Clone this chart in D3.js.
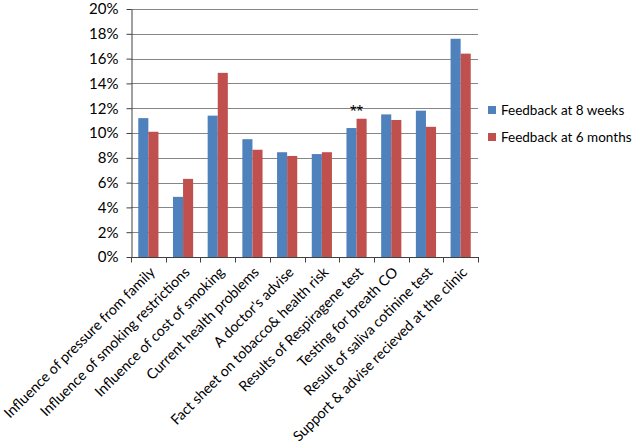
<!DOCTYPE html>
<html><head><meta charset="utf-8">
<script src="https://cdn.jsdelivr.net/npm/d3@7"></script>
<style>body{margin:0;background:#fff}svg{display:block}text{font-family:Lato,"Liberation Sans",sans-serif;fill:#000}</style>
</head><body><svg id="c" width="638" height="445"></svg>
<script>
const categories = ["Influence of pressure from family","Influence of smoking restrictions","Influence of cost of smoking","Current health problems","A doctor's advise","Fact sheet on tobacco& health risk","Results of Respiragene test","Testing for breath CO","Result of saliva cotinine test","Support & advise recieved at the clinic"];
const seriesNames = ["Feedback at 8 weeks","Feedback at 6 months"];
const week8 = [11.2, 4.85, 11.4, 9.5, 8.45, 8.3, 10.4, 11.5, 11.8, 17.6];
const month6 = [10.1, 6.3, 14.85, 8.65, 8.15, 8.45, 11.15, 11.05, 10.5, 16.4];
const yTicks = [0,2,4,6,8,10,12,14,16,18,20];
const annotationCategory = "Results of Respiragene test";
const annotationText = "**";
const colors = ["#4F81BD","#C0504D"];

const svg = d3.select("#c");
const L=131, R=478, T=9, B=257;
const x = d3.scaleBand().domain(categories).range([L,R]).paddingInner(0).paddingOuter(0);
const xs = d3.scaleBand().domain(seriesNames).range([0,x.bandwidth()]).paddingInner(0).paddingOuter(0.72);
const y = d3.scaleLinear().domain([0,20]).range([B,T]);
const color = d3.scaleOrdinal().domain(seriesNames).range(colors);

// gridlines
svg.append("g").selectAll("line").data(yTicks.filter(d=>d>0)).join("line")
  .attr("x1",L).attr("x2",R).attr("y1",d=>Math.round(y(d))+0.5).attr("y2",d=>Math.round(y(d))+0.5)
  .attr("stroke","#868686").attr("stroke-width",1);

// bars
const rows = categories.map((c,i)=>({c, vals:[week8[i],month6[i]]}));
const g = svg.append("g").selectAll("g").data(rows).join("g").attr("transform",d=>`translate(${x(d.c)},0)`);
g.selectAll("rect").data(d=>d.vals.map((v,j)=>({s:seriesNames[j],v}))).join("rect")
  .attr("x",d=>xs(d.s)).attr("width",xs.bandwidth())
  .attr("y",d=>y(d.v)).attr("height",d=>B-y(d.v))
  .attr("fill",d=>color(d.s));

// y axis
const ya = svg.append("g").attr("transform",`translate(${L+0.5},0)`)
  .call(d3.axisLeft(y).tickValues(yTicks).tickFormat(d=>d+"%").tickSize(5).tickSizeOuter(0));
ya.select(".domain").attr("stroke","#404040");
ya.selectAll(".tick line").attr("stroke","#404040");
ya.selectAll(".tick text").attr("font-size","15px").attr("x",-13).style("font-family","Lato,'Liberation Sans',sans-serif");

// x axis
const xa = svg.append("g").attr("transform",`translate(0,${B+0.5})`);
xa.append("line").attr("x1",L).attr("x2",R+1).attr("y1",0).attr("y2",0).attr("stroke","#404040");
const bounds = categories.map(c=>x(c)).concat([x(categories[categories.length-1])+x.bandwidth()]);
xa.selectAll("line.t").data(bounds).join("line").attr("class","t")
  .attr("x1",d=>Math.round(d)+0.5).attr("x2",d=>Math.round(d)+0.5).attr("y1",0).attr("y2",5).attr("stroke","#404040");
xa.selectAll("text").data(categories).join("text")
  .attr("transform",d=>`translate(${x(d)+x.bandwidth()/2+4},${12}) rotate(-45)`)
  .attr("text-anchor","end").attr("dy","0.35em").attr("font-size","14.3px").text(d=>d);

// annotation
svg.append("text").attr("x",x(annotationCategory)+x.bandwidth()/2).attr("y",y(11.15)-2)
  .attr("text-anchor","middle").attr("font-size","17px").attr("fill","#333")
  .style("font-family","'Liberation Sans',sans-serif").text(annotationText);

// legend
const lg = svg.append("g").selectAll("g").data(seriesNames).join("g")
  .attr("transform",(d,i)=>`translate(488,${110+i*27})`);
lg.append("rect").attr("x",0).attr("y",-4).attr("width",8).attr("height",8).attr("fill",d=>color(d));
lg.append("text").attr("x",13).attr("dy","0.35em").attr("font-size","13.5px").text(d=>d);
</script></body></html>
